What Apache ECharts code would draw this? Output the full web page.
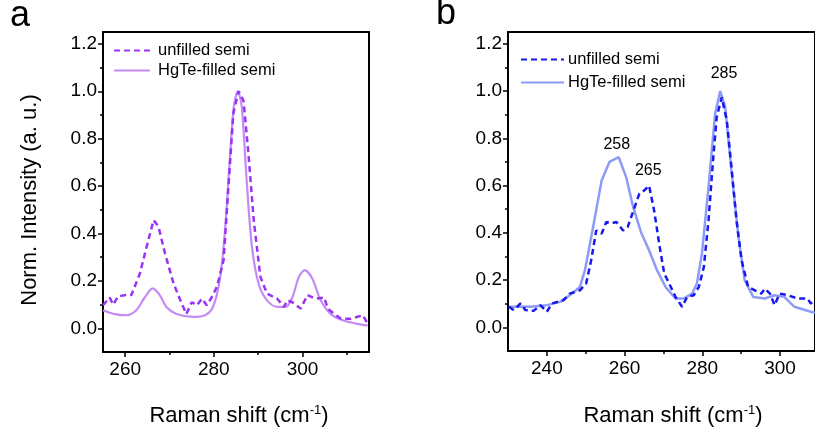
<!DOCTYPE html>
<html><head><meta charset="utf-8">
<script src="https://cdn.jsdelivr.net/npm/echarts@6/dist/echarts.min.js"></script>
<style>html,body{margin:0;padding:0;background:#fff}#c{width:815px;height:435px}</style>
</head><body><div id="c"></div>
<script>
// Panel a data
const aUnfilled = [[255,0.097],[256.5,0.13],[257.3,0.10],[258.4,0.135],[260,0.14],[261.4,0.14],[263.3,0.23],[265.2,0.37],[266.4,0.456],[267.5,0.43],[269,0.315],[270.9,0.19],[272.4,0.12],[273.8,0.06],[275,0.11],[276.2,0.097],[277.3,0.125],[278.4,0.097],[279.5,0.13],[280.7,0.175],[282.2,0.287],[283.3,0.597],[284.4,0.907],[285.6,1.0],[286.7,0.96],[287.8,0.738],[289,0.456],[290.5,0.217],[292,0.146],[294.3,0.125],[295.8,0.09],[296.6,0.118],[297.7,0.11],[299.6,0.083],[301.1,0.14],[303,0.125],[304.9,0.13],[305.7,0.083],[307.2,0.06],[308.7,0.04],[310.9,0.04],[313.6,0.055],[314.7,0.02]];
const aFilled = [[255,0.076],[257.6,0.06],[260.3,0.055],[262.5,0.076],[264.4,0.13],[266.2,0.168],[267.8,0.14],[269.3,0.09],[271.6,0.06],[275.3,0.048],[278,0.055],[279.8,0.09],[281.3,0.2],[282.4,0.385],[283.6,0.71],[284.5,0.935],[285.4,1.0],[286.3,0.935],[287.4,0.625],[288.6,0.343],[290.1,0.188],[292,0.118],[294.3,0.09],[296.2,0.09],[297.7,0.13],[299.2,0.217],[300.5,0.245],[302.2,0.21],[304.1,0.118],[306.4,0.06],[309.4,0.032],[314.7,0.011]];
// Panel b data
const bUnfilled = [[230.2,0.087],[231.5,0.073],[233.2,0.101],[234.5,0.073],[236.6,0.07],[238.3,0.094],[240,0.066],[241.3,0.101],[244.3,0.115],[245.9,0.143],[248.5,0.157],[250.1,0.185],[251.4,0.284],[252.7,0.41],[254.1,0.397],[255.3,0.446],[256.6,0.44],[257.9,0.446],[259.6,0.41],[260.8,0.425],[262.3,0.495],[263.8,0.566],[265.1,0.58],[266.3,0.6],[267.6,0.495],[268.9,0.354],[270.2,0.228],[271.9,0.171],[273.1,0.129],[274.8,0.087],[276.1,0.129],[277.8,0.136],[279.1,0.171],[280.4,0.256],[281.6,0.453],[282.9,0.735],[283.7,0.89],[285,0.974],[286.3,0.876],[287.5,0.678],[288.8,0.453],[290.1,0.284],[291.8,0.171],[293.5,0.157],[295.2,0.143],[296.1,0.164],[297.4,0.143],[298.6,0.094],[299.9,0.143],[302,0.136],[304.6,0.122],[307.1,0.122],[307.9,0.101],[309,0.11]];
const bFilled = [[230.2,0.087],[235.7,0.087],[240,0.094],[243.4,0.108],[245.9,0.136],[248.5,0.171],[249.8,0.242],[251.9,0.425],[254.1,0.622],[256.1,0.70],[258.5,0.72],[260.4,0.636],[262.2,0.51],[264.2,0.404],[266.3,0.326],[268.4,0.24],[270.6,0.17],[273.1,0.122],[275.2,0.122],[277.4,0.143],[278.6,0.185],[279.9,0.312],[281.6,0.594],[283.3,0.904],[284.6,1.0],[285.9,0.932],[287.5,0.664],[289.3,0.383],[290.9,0.2],[293.1,0.129],[296.1,0.122],[298.6,0.136],[301.1,0.129],[303.7,0.087],[307.9,0.066],[309,0.062]];
const bPeakLabels = [{name:'258', x:258, y:0.774}, {name:'265', x:266.1, y:0.665}, {name:'285', x:285.6, y:1.074}];

const yMajor = [0, 0.2, 0.4, 0.6, 0.8, 1.0, 1.2];
const yMinor = [0.1, 0.3, 0.5, 0.7, 0.9, 1.1];
const aXMajor = [260, 280, 300];
const aXMinor = [270, 290, 310];
const bXMajor = [240, 260, 280, 300];
const bXMinor = [250, 270, 290];
const seriesNames = ['unfilled semi', 'HgTe-filled semi'];

const FONT = 'Liberation Sans, Arial, sans-serif';
const chart = echarts.init(document.getElementById('c'), null, {renderer: 'canvas'});

function xAxes(gi, min, max, major, minor) {
  return [
    {type:'value', gridIndex:gi, min:min, max:max, position:'bottom',
     axisLine:{show:true, onZero:false, lineStyle:{color:'#000', width:2}},
     axisTick:{show:true, customValues:major, length:5, lineStyle:{color:'#000', width:1.5}},
     axisLabel:{show:true, customValues:major, color:'#000', fontSize:19, fontFamily:FONT, margin:8, formatter: v => String(v)},
     splitLine:{show:false}},
    {type:'value', gridIndex:gi, min:min, max:max, position:'bottom',
     axisLine:{show:false, onZero:false},
     axisTick:{show:true, customValues:minor, length:3, lineStyle:{color:'#000', width:1.5}},
     axisLabel:{show:false}, splitLine:{show:false}}
  ];
}
function yAxes(gi) {
  return [
    {type:'value', gridIndex:gi, min:-0.1, max:1.25, position:'left',
     axisLine:{show:true, onZero:false, lineStyle:{color:'#000', width:2}},
     axisTick:{show:true, customValues:yMajor, length:5, lineStyle:{color:'#000', width:1.5}},
     axisLabel:{show:true, customValues:yMajor, color:'#000', fontSize:19, fontFamily:FONT, margin:6, formatter: v => v.toFixed(1)},
     splitLine:{show:false}},
    {type:'value', gridIndex:gi, min:-0.1, max:1.25, position:'left',
     axisLine:{show:false, onZero:false},
     axisTick:{show:true, customValues:yMinor, length:3, lineStyle:{color:'#000', width:1.5}},
     axisLabel:{show:false}, splitLine:{show:false}}
  ];
}
const xTitle = {text:'{n|Raman shift (cm}{s|-1}{n|)}', align:'center', verticalAlign:'middle',
  rich:{n:{fontSize:22, fontFamily:FONT, fill:'#000'}, s:{fontSize:13, fontFamily:FONT, fill:'#000', verticalAlign:'top', padding:[0,0,11,0]}}};

const option = {
  animation:false,
  backgroundColor:'#fff',
  grid:[
    {left:103, top:32, right:446, bottom:83, show:true, borderColor:'#000', borderWidth:2, backgroundColor:'transparent'},
    {left:508, top:32, right:-3, bottom:84, show:true, borderColor:'#000', borderWidth:2, backgroundColor:'transparent'}
  ],
  xAxis: [...xAxes(0, 255, 315, aXMajor, aXMinor), ...xAxes(1, 230, 309, bXMajor, bXMinor)],
  yAxis: [...yAxes(0), ...yAxes(1)],
  legend:[
    {orient:'vertical', left:108, top:37, itemWidth:36, itemHeight:14, itemGap:3,
     itemStyle:{opacity:0, borderWidth:0},
     data:['a-u','a-f'], formatter: n => n==='a-u'?seriesNames[0]:seriesNames[1],
     textStyle:{fontSize:16.5, fontFamily:FONT, color:'#000', padding:[0,0,0,3]}},
    {orient:'vertical', left:515, top:46, itemWidth:43, itemHeight:14, itemGap:6,
     itemStyle:{opacity:0, borderWidth:0},
     data:['b-u','b-f'], formatter: n => n==='b-u'?seriesNames[0]:seriesNames[1],
     textStyle:{fontSize:16.5, fontFamily:FONT, color:'#000', padding:[0,0,0,-1]}}
  ],
  series:[
    {name:'a-u', type:'line', xAxisIndex:0, yAxisIndex:0, data:aUnfilled, showSymbol:false, symbol:'none', z:3,
     lineStyle:{color:'#9933F5', width:2.5, type:[6,4]}, itemStyle:{color:'#9933F5'}},
    {name:'a-f', type:'line', xAxisIndex:0, yAxisIndex:0, data:aFilled, showSymbol:false, symbol:'none', smooth:0.3, z:2,
     lineStyle:{color:'#C38BF3', width:2.2}, itemStyle:{color:'#C38BF3'}},
    {name:'b-u', type:'line', xAxisIndex:2, yAxisIndex:2, data:bUnfilled, showSymbol:false, symbol:'none', z:3,
     lineStyle:{color:'#1919EE', width:2.5, type:[6,4]}, itemStyle:{color:'#1919EE'}},
    {name:'b-f', type:'line', xAxisIndex:2, yAxisIndex:2, data:bFilled, showSymbol:false, symbol:'none', z:2,
     lineStyle:{color:'#8C9CF6', width:2.5}, itemStyle:{color:'#8C9CF6'},
     markPoint:{symbol:'circle', symbolSize:0, silent:true,
       label:{show:true, position:'inside', color:'#000', fontSize:16, fontFamily:FONT, formatter: p => p.name},
       data: bPeakLabels.map(p => ({name:p.name, coord:[p.x, p.y]}))}}
  ],
  graphic:[
    {type:'text', left:10, top:-2, style:{text:'a', fontSize:36, fontFamily:FONT, fill:'#000'}},
    {type:'text', left:436, top:-4, style:{text:'b', fontSize:36, fontFamily:FONT, fill:'#000'}},
    {type:'text', x:30, y:200, rotation:Math.PI/2,
     style:{text:'Norm. Intensity (a. u.)', fontSize:22, fontFamily:FONT, fill:'#000', align:'center', verticalAlign:'middle'}},
    {type:'text', x:239, y:416, style:xTitle},
    {type:'text', x:673, y:416, style:xTitle}
  ]
};
chart.setOption(option);
</script></body></html>
